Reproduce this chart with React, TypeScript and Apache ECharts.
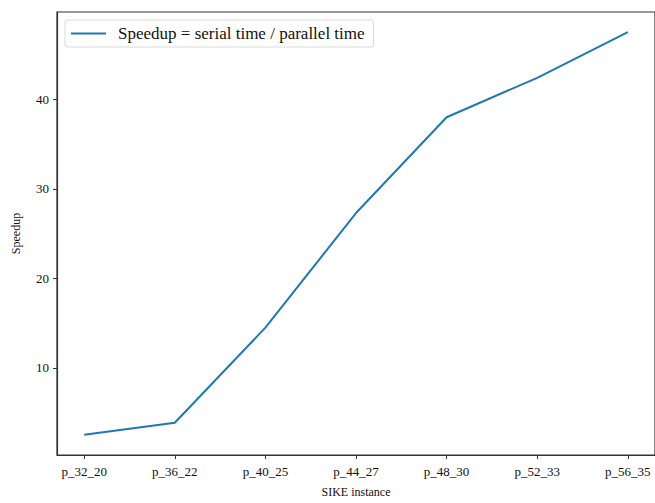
import React, { useEffect, useRef } from "react";
import * as echarts from "echarts";

const categories = ["p_32_20", "p_36_22", "p_40_25", "p_44_27", "p_48_30", "p_52_33", "p_56_35"];
const speedup = [2.53, 3.88, 14.5, 27.3, 38.0, 42.4, 47.5];
const yTicks = [10, 20, 30, 40];
const seriesName = "Speedup = serial time / parallel time";

const FONT = "Liberation Serif";

export default function App() {
  const ref = useRef<HTMLDivElement>(null);
  useEffect(() => {
    if (!ref.current) return;
    const chart = echarts.init(ref.current, undefined, { renderer: "svg" });
    const data = speedup.map((v, i) => [i, v]);
    const n = categories.length - 1;
    const ymin = Math.min(...speedup);
    const ymax = Math.max(...speedup);
    const pad = (ymax - ymin) * 0.05;
    const xTicks = categories.map((_, i) => i);
    chart.setOption({
      animation: false,
      backgroundColor: "#ffffff",
      textStyle: { fontFamily: FONT },
      grid: {
        left: 57,
        top: 12,
        right: -9,
        bottom: 43,
        show: true,
        borderColor: "#333333",
        borderWidth: 1.2,
        containLabel: false,
      },
      legend: {
        show: true,
        left: 65,
        top: 20,
        orient: "horizontal",
        padding: [5, 9, 5, 6],
        itemWidth: 35,
        itemHeight: 2,
        itemGap: 10,
        icon: "rect",
        borderColor: "#d9d9d9",
        borderWidth: 1,
        borderRadius: 3,
        backgroundColor: "#ffffff",
        textStyle: { fontFamily: FONT, fontSize: 17, color: "#111111", padding: [0, 0, 0, 7] },
        data: [{ name: seriesName, icon: "rect" }],
      },
      xAxis: {
        type: "value",
        min: -0.3,
        max: n + 0.3,
        name: "SIKE instance",
        nameLocation: "middle",
        nameGap: 31,
        nameTextStyle: { fontFamily: FONT, fontSize: 12, color: "#111111" },
        splitLine: { show: false },
        axisLine: { show: true, onZero: false, lineStyle: { color: "#333333", width: 1.2 } },
        axisTick: {
          show: true,
          length: 4,
          inside: false,
          customValues: xTicks,
          lineStyle: { color: "#333333", width: 1 },
        },
        axisLabel: {
          show: true,
          margin: 10,
          fontFamily: FONT,
          fontSize: 13,
          color: "#111111",
          customValues: xTicks,
          formatter: (v: number) => categories[Math.round(v)] ?? "",
        },
      },
      yAxis: {
        type: "value",
        min: ymin - pad,
        max: ymax + pad,
        name: "Speedup",
        nameLocation: "middle",
        nameGap: 35,
        nameTextStyle: { fontFamily: FONT, fontSize: 12, color: "#111111" },
        splitLine: { show: false },
        axisLine: { show: true, onZero: false, lineStyle: { color: "#333333", width: 1.2 } },
        axisTick: {
          show: true,
          length: 4,
          customValues: yTicks,
          lineStyle: { color: "#333333", width: 1 },
        },
        axisLabel: {
          show: true,
          margin: 8,
          fontFamily: FONT,
          fontSize: 13,
          color: "#111111",
          customValues: yTicks,
        },
      },
      series: [
        {
          name: seriesName,
          type: "line",
          data,
          symbol: "none",
          showSymbol: false,
          lineStyle: { color: "#1f77b4", width: 2 },
          itemStyle: { color: "#1f77b4" },
        },
      ],
    });
    return () => chart.dispose();
  }, []);
  return <div ref={ref} style={{ width: 655, height: 503, position: "absolute", left: 0, top: 0 }} />;
}
